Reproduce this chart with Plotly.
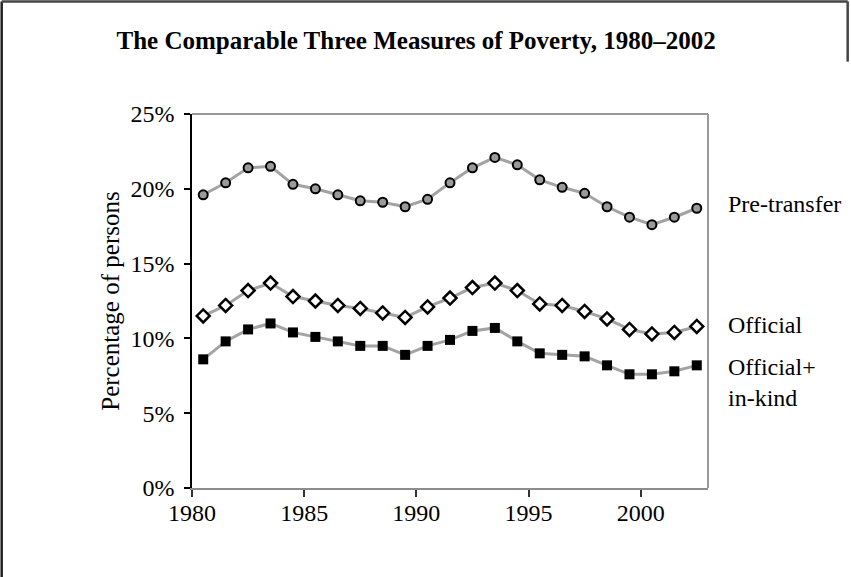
import plotly.graph_objects as go

# Years and poverty rates (% of persons)
years = list(range(1980, 2003))
pre_transfer = [19.6, 20.4, 21.4, 21.5, 20.3, 20.0, 19.6, 19.2, 19.1, 18.8, 19.3, 20.4,
                21.4, 22.1, 21.6, 20.6, 20.1, 19.7, 18.8, 18.1, 17.6, 18.1, 18.7]
official = [11.5, 12.2, 13.2, 13.7, 12.8, 12.5, 12.2, 12.0, 11.7, 11.4, 12.1, 12.7,
            13.4, 13.7, 13.2, 12.3, 12.2, 11.8, 11.3, 10.6, 10.3, 10.4, 10.8]
official_inkind = [8.6, 9.8, 10.6, 11.0, 10.4, 10.1, 9.8, 9.5, 9.5, 8.9, 9.5, 9.9,
                   10.5, 10.7, 9.8, 9.0, 8.9, 8.8, 8.2, 7.6, 7.6, 7.8, 8.2]
tick_years = [1980, 1985, 1990, 1995, 2000]
y_ticks = [0, 5, 10, 15, 20, 25]

FONT = "Liberation Serif, Times New Roman, serif"
LINE = "#a3a3a3"

fig = go.Figure()

fig.add_trace(go.Scatter(
    x=years, y=pre_transfer, mode="lines+markers", name="Pre-transfer",
    line=dict(color=LINE, width=3),
    marker=dict(symbol="circle", size=9, color="#9a9a9a",
                line=dict(color="black", width=2))))

fig.add_trace(go.Scatter(
    x=years, y=official, mode="lines+markers", name="Official",
    line=dict(color=LINE, width=3),
    marker=dict(symbol="diamond", size=10, color="white",
                line=dict(color="black", width=2.5))))

fig.add_trace(go.Scatter(
    x=years, y=official_inkind, mode="lines+markers", name="Official+ in-kind",
    line=dict(color=LINE, width=3),
    marker=dict(symbol="square", size=10, color="black",
                line=dict(color="black", width=0))))

# series labels at the right of the plot
for text, yv in [("Pre-transfer", 19.0), ("Official", 10.9),
                 ("Official+", 8.1), ("in-kind", 6.0)]:
    fig.add_annotation(x=1.034, xref="paper", y=yv, yref="y", text=text,
                       showarrow=False, xanchor="left", yanchor="middle",
                       font=dict(family=FONT, size=24, color="black"))

# grey top/right border of the plot area
fig.add_shape(type="line", xref="paper", yref="paper", x0=0, x1=1, y0=1, y1=1,
              line=dict(color="#999999", width=2))
fig.add_shape(type="line", xref="paper", yref="paper", x0=1, x1=1, y0=0, y1=1,
              line=dict(color="#999999", width=2))

# outer frame pieces
fig.add_shape(type="line", xref="paper", yref="paper", x0=-0.3688, x1=-0.3688,
              y0=-0.26, y1=1.301, line=dict(color="#222222", width=2.5))
fig.add_shape(type="line", xref="paper", yref="paper", x0=-0.3688, x1=1.2707,
              y0=1.301, y1=1.301, line=dict(color="#444444", width=2.5))
fig.add_shape(type="line", xref="paper", yref="paper", x0=1.2707, x1=1.2707,
              y0=1.14, y1=1.301, line=dict(color="#444444", width=2.5))

fig.update_layout(
    width=851, height=577,
    margin=dict(l=192, r=143, t=114, b=89),
    paper_bgcolor="white", plot_bgcolor="white",
    showlegend=False,
    title=dict(text="<b>The Comparable Three Measures of Poverty, 1980–2002</b>",
               x=0.489, xanchor="center", y=0.93, yanchor="middle",
               font=dict(family=FONT, size=25, color="black")),
    font=dict(family=FONT, size=24, color="black"),
    xaxis=dict(
        range=[1979.5, 2002.5],
        tickmode="array",
        tickvals=[t - 0.5 for t in tick_years],
        ticktext=[str(t) for t in tick_years],
        showgrid=False, zeroline=False,
        showline=True, linecolor="#8c8c8c", linewidth=2,
        ticks="outside", ticklen=7, tickcolor="#333333", tickwidth=1.5,
        ticklabelstandoff=-5,
        tickfont=dict(family=FONT, size=24, color="black")),
    yaxis=dict(
        range=[0, 25], tickmode="array", tickvals=y_ticks,
        ticktext=[f"{v}%" for v in y_ticks],
        showgrid=False, zeroline=False,
        showline=True, linecolor="black", linewidth=1.5,
        ticks="outside", ticklen=6, tickcolor="black", tickwidth=1.5,
        ticklabelstandoff=5,
        tickfont=dict(family=FONT, size=24, color="black"),
        title=dict(text="Percentage of persons", standoff=4,
                   font=dict(family=FONT, size=25, color="black"))),
)

# page body has an 8px default margin; remove it so the figure sits at 0,0
fig.write_html("out.html", config={"displayModeBar": False},
               post_script="document.body.style.margin='0px';")
